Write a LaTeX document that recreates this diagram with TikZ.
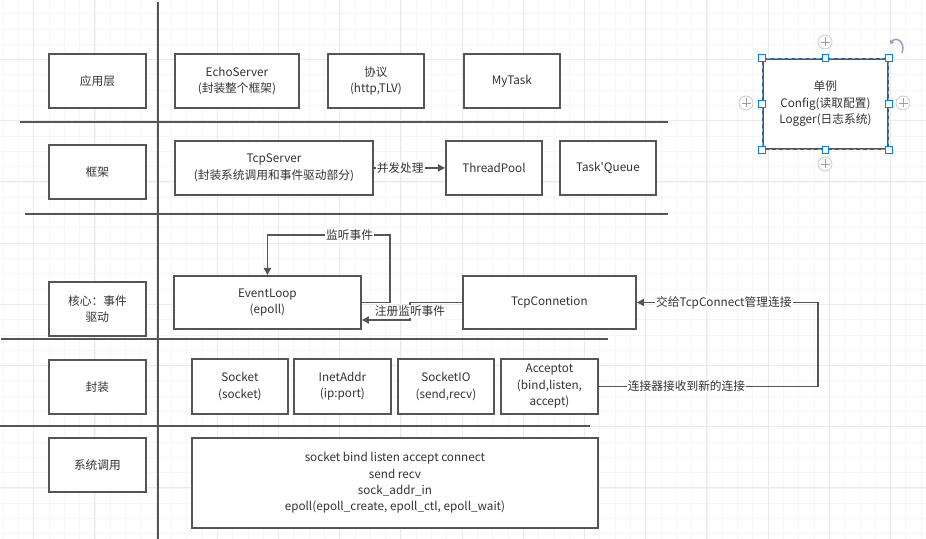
\documentclass[tikz,border=0pt]{standalone}
\usepackage{fontspec}
\setmainfont{Noto Sans CJK SC}[Ligatures=TeXOff]
\usetikzlibrary{arrows.meta, positioning}
\definecolor{stroke}{RGB}{85,85,85}
\definecolor{txt}{RGB}{51,51,51}
\definecolor{gridmin}{RGB}{246,246,246}
\definecolor{gridmaj}{RGB}{234,234,234}
\definecolor{selblue}{RGB}{0,127,255}
\definecolor{seldash}{RGB}{110,165,230}
\definecolor{rotcol}{RGB}{150,162,185}
\tikzset{
    box/.style={
        rectangle, anchor=north west,
        draw=stroke, line width=1.6pt, fill=white,
        align=center, text=txt, inner sep=2pt,
        font=\fontsize{10}{14}\selectfont
    },
    layerline/.style={draw=stroke, line width=1.6pt},
    conn/.style={draw=stroke, line width=1.6pt},
    arrow/.style={conn, -{Triangle[length=6pt, width=6pt]}},
    lbl/.style={fill=white, inner sep=1pt, text=txt, font=\fontsize{10}{12}\selectfont},
    handle/.style={rectangle, draw=selblue, fill=white, line width=0.8pt,
        minimum size=0.2cm, inner sep=0pt}
}

\begin{document}
\begin{tikzpicture}[x=0.03cm, y=-0.03cm]
    \useasboundingbox (0,0) rectangle (926,539);
    \fill[white] (0,0) rectangle (926,539);

    % Background grid
    \foreach \k in {-2,...,58}
        \draw[gridmin, line width=0.6pt] ({33.7+15.3*\k},0) -- ({33.7+15.3*\k},539);
    \foreach \k in {0,...,35}
        \draw[gridmin, line width=0.6pt] (0,{-1.7+15.3*\k}) -- (926,{-1.7+15.3*\k});
    \foreach \k in {0,...,14}
        \draw[gridmaj, line width=0.7pt] ({33.7+61.2*\k},0) -- ({33.7+61.2*\k},539);
    \foreach \k in {1,...,8}
        \draw[gridmaj, line width=0.7pt] (0,{-1.7+61.2*\k}) -- (926,{-1.7+61.2*\k});

    % Layer separators
    \draw[layerline] (158,2) -- (158,539);
    \draw[layerline] (20,122) -- (668,122);
    \draw[layerline] (25,214) -- (668,214);
    \draw[layerline] (1,339) -- (608,339);
    \draw[layerline] (0,426) -- (590,426);

    % Layer names
    \node[box, minimum width=2.91cm, minimum height=1.62cm] (app)  at (48,53)  {应用层};
    \node[box, minimum width=2.91cm, minimum height=1.62cm] (frame) at (48,144) {框架};
    \node[box, minimum width=2.91cm, minimum height=1.62cm] (core) at (48,281) {核心：事件\\驱动};
    \node[box, minimum width=2.91cm, minimum height=1.62cm] (wrap) at (48,359) {封装};
    \node[box, minimum width=2.91cm, minimum height=1.62cm] (sys)  at (48,437) {系统调用};

    % Application layer
    \node[box, minimum width=3.72cm, minimum height=1.62cm] (echo)   at (174,53) {EchoServer\\(封装整个框架)};
    \node[box, minimum width=2.88cm, minimum height=1.62cm] (proto)  at (327,53) {协议\\(http,TLV)};
    \node[box, minimum width=2.88cm, minimum height=1.62cm] (mytask) at (463,53) {MyTask};

    % Framework layer
    \node[box, minimum width=5.94cm, minimum height=1.62cm] (tcpserver)  at (174,140) {TcpServer\\(封装系统调用和事件驱动部分)};
    \node[box, minimum width=2.88cm, minimum height=1.62cm] (threadpool) at (445,140) {ThreadPool};
    \node[box, minimum width=2.88cm, minimum height=1.62cm] (taskqueue)  at (559,140) {Task'Queue};

    % Event driven core
    \node[box, minimum width=5.61cm, minimum height=1.59cm] (eventloop) at (173,275) {EventLoop\\(epoll)};
    \node[box, minimum width=5.19cm, minimum height=1.59cm] (tcpconn)   at (462,275) {TcpConnetion};

    % Wrappers
    \node[box, minimum width=2.88cm, minimum height=1.65cm] (sock)     at (191,358) {Socket\\(socket)};
    \node[box, minimum width=2.91cm, minimum height=1.65cm] (inetaddr) at (293,358) {InetAddr\\(ip:port)};
    \node[box, minimum width=2.88cm, minimum height=1.65cm] (sockio)   at (397,358) {SocketIO\\(send,recv)};
    \node[box, minimum width=2.91cm, minimum height=1.65cm] (acceptor) at (500,358) {Acceptot\\(bind,listen,\\accept)};

    % System calls
    \node[box, minimum width=12.18cm, minimum height=2.7cm] (syscalls) at (191,437)
        {socket bind listen accept connect\\send recv\\sock\_addr\_in\\epoll(epoll\_create, epoll\_ctl, epoll\_wait)};

    % Singleton (selected)
    \node[box, minimum width=3.75cm, minimum height=2.7cm] (single) at (762,58) {单例\\Config(读取配置)\\Logger(日志系统)};
    \draw[seldash, dashed, line width=0.8pt] (single.north west) rectangle (single.south east);
    \foreach \a in {north west, north, north east, east, south east, south, south west, west}
        \node[handle] at (single.\a) {};
    \foreach \px/\py in {825/42, 825/164, 746/103, 903/103} {
        \draw[gray!45, fill=white, line width=0.6pt] (\px,\py) circle (0.21cm);
        \draw[gray!75, line width=0.6pt] (\px-4.5,\py) -- (\px+4.5,\py) (\px,\py-4.5) -- (\px,\py+4.5);
    }
    \draw[rotcol, line width=1.3pt, {Triangle[length=3pt, width=4.5pt]}-] (890,44) .. controls (896,36) and (906,42) .. (902,53);

    % Connectors
    \coordinate (listen) at (390,235);
    \coordinate (reg) at (410,320);
    \coordinate (accx) at (818,340);

    \draw[arrow] (tcpserver) -- node[lbl, pos=0.37] {并发处理} (threadpool);

    \draw[arrow] (eventloop.east) -| (listen)
        -- node[lbl, pos=0.33] {监听事件} (listen -| eventloop.north) -- (eventloop.north);

    \draw[arrow] (tcpconn.west) -- (tcpconn.west -| reg)
        -- node[lbl] {注册监听事件} (reg) -- (reg -| eventloop.east);

    \draw[arrow] (acceptor.east) -- node[lbl, pos=0.4] {连接器接收到新的连接} (acceptor.east -| accx)
        -- (accx |- tcpconn.east) -- node[lbl, pos=0.52] {交给TcpConnect管理连接} (tcpconn.east);
\end{tikzpicture}
\end{document}
